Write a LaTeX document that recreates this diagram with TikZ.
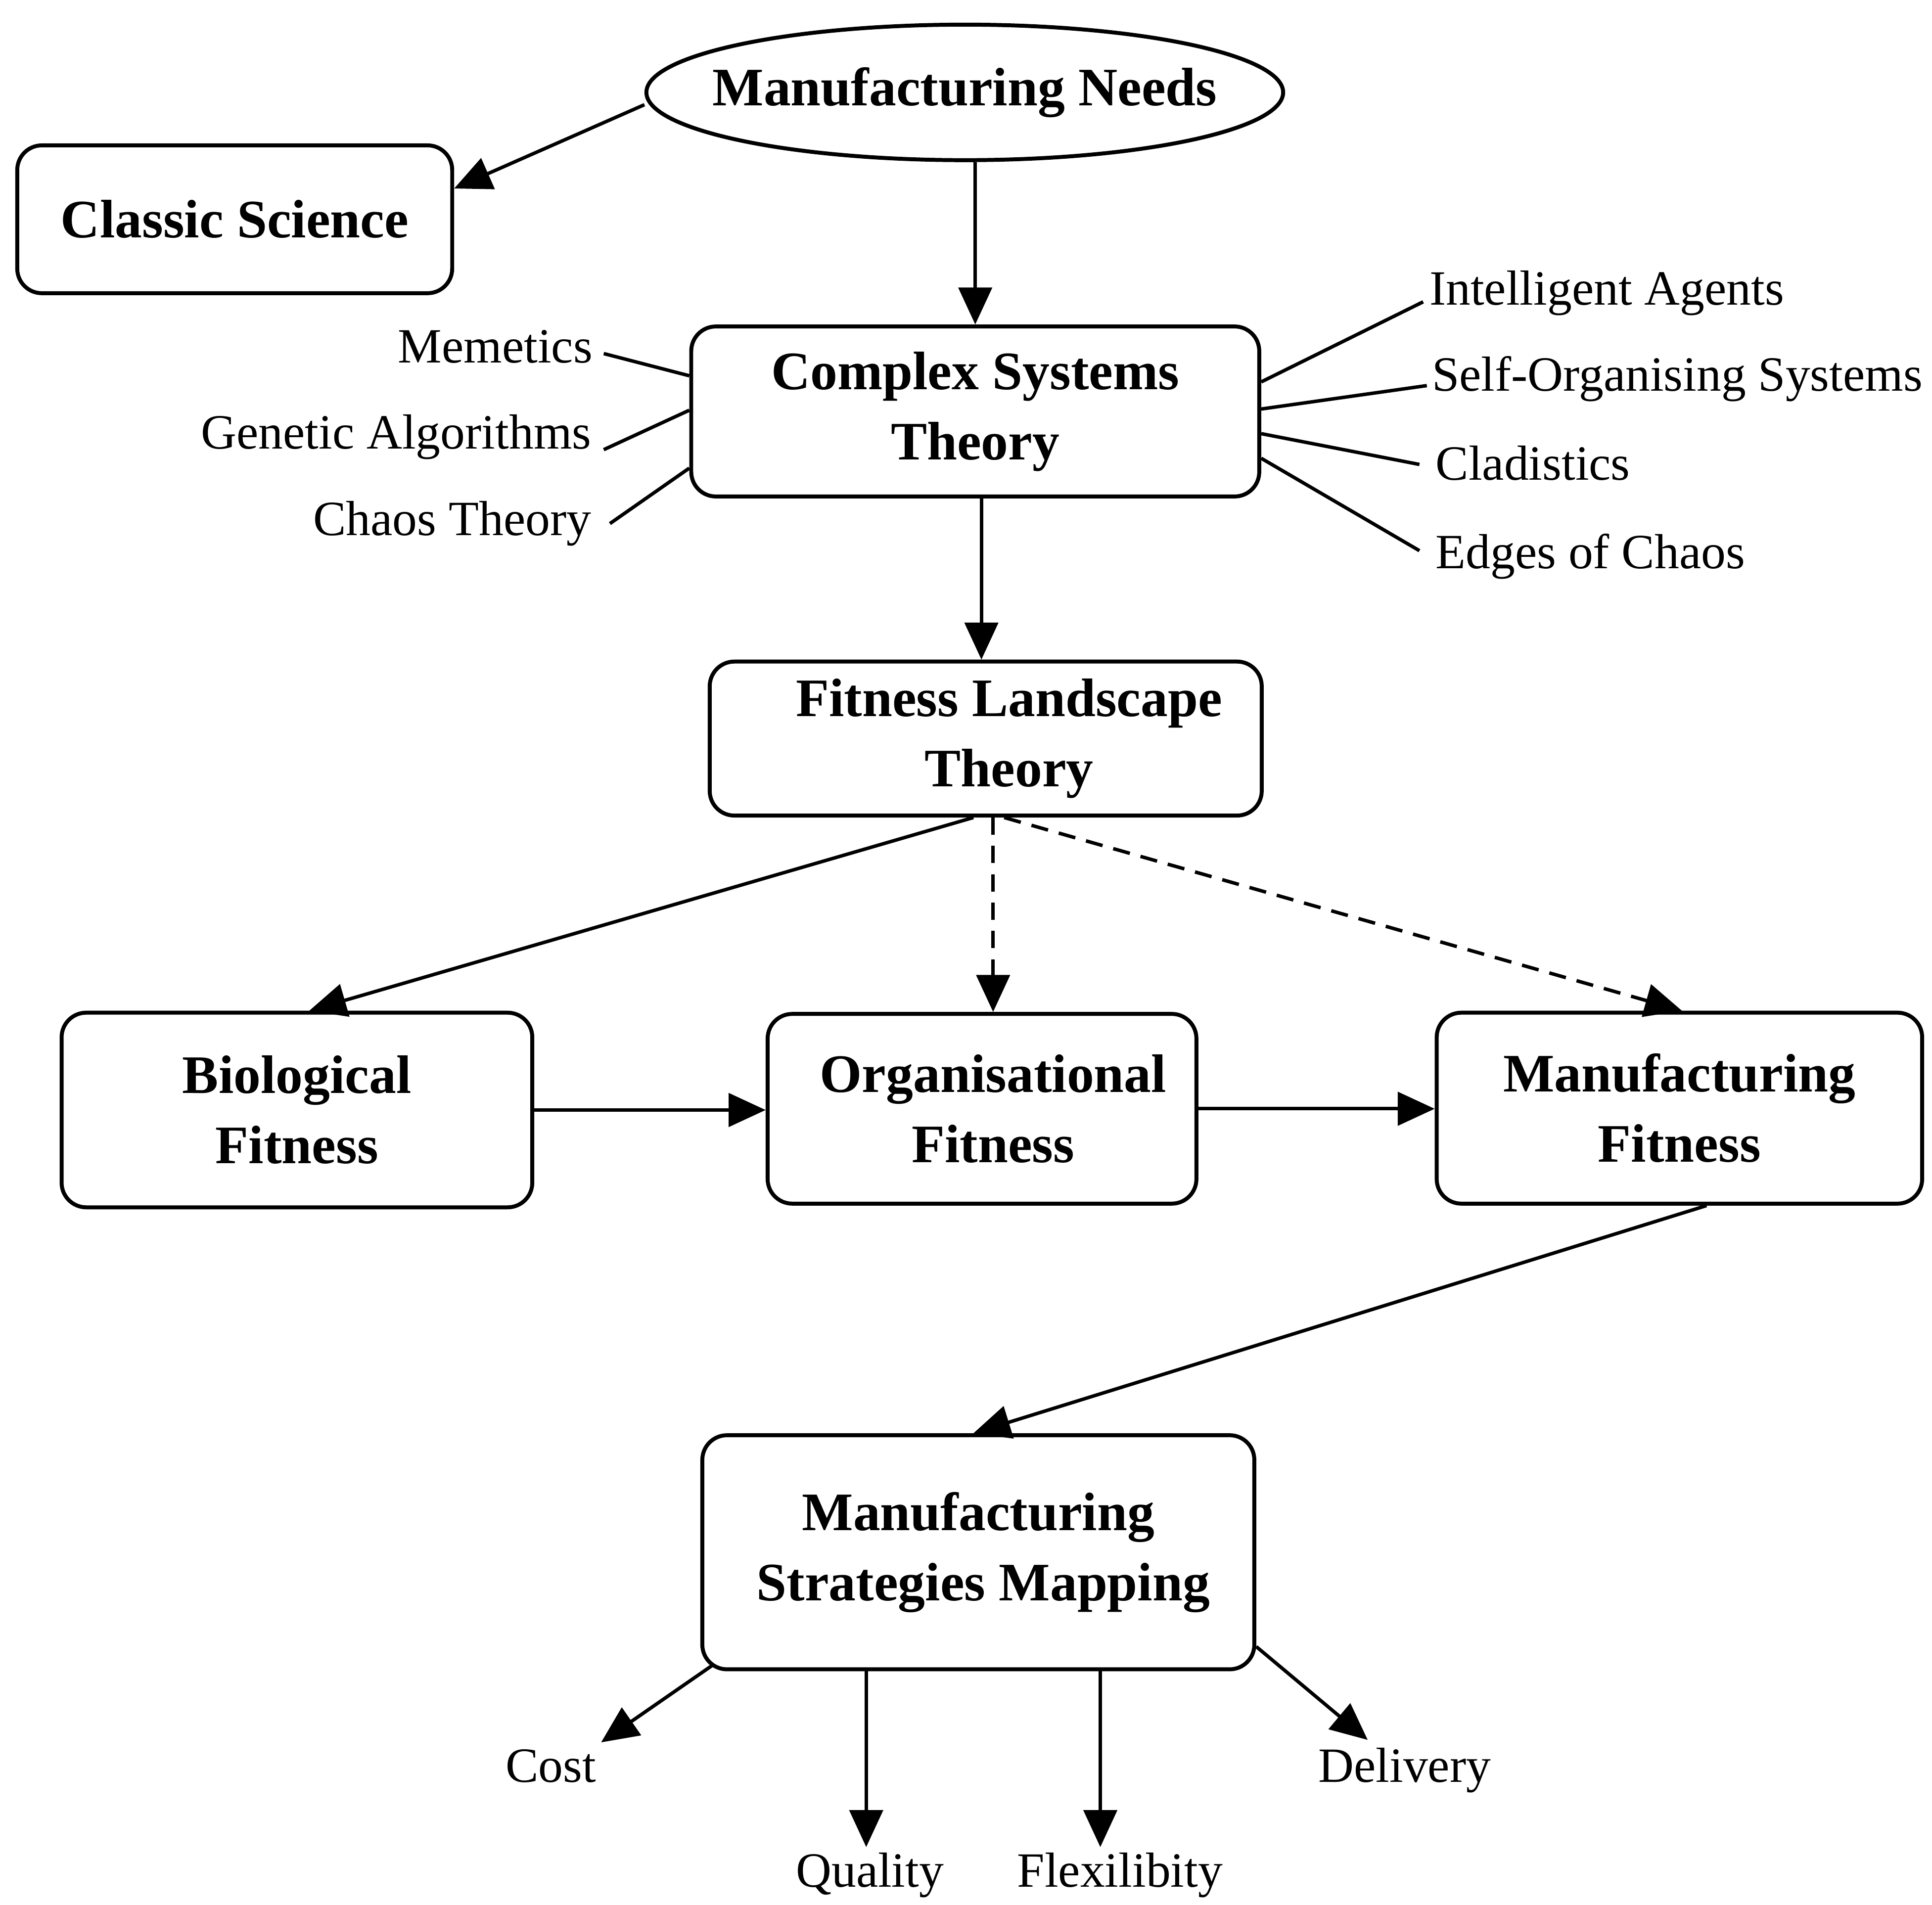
\documentclass[tikz,border=0pt]{standalone}
\usepackage{fontspec}
\setmainfont{Liberation Serif}
\usetikzlibrary{arrows.meta,shapes.geometric}
\begin{document}
\begin{tikzpicture}[x=1pt,y=-1pt,
  boxfont/.style={font=\bfseries\fontsize{44}{57}\selectfont},
  stepbox/.style={draw,line width=3.2pt,rounded corners=20pt,inner sep=0pt,align=center,boxfont},
  topic/.style={inner sep=0pt,font=\fontsize{40}{48}\selectfont,text height=28pt,text depth=9pt},
  outcome/.style={inner sep=4pt,font=\fontsize{40}{48}\selectfont,text height=28pt,text depth=9pt},
  link/.style={line width=2.8pt},
  arr/.style={line width=2.8pt,-{Triangle[length=30pt,width=27pt]}},
  darr/.style={arr,dash pattern=on 14pt off 9pt}]
\useasboundingbox (0,0) rectangle (1568,1546);

% main nodes
\node[draw,ellipse,line width=3.2pt,inner xsep=-22pt,inner ysep=0pt,minimum height=110pt,boxfont]
  (needs) at (783,75) {Manufacturing Needs};
\node[stepbox,minimum width=353pt,minimum height=120pt] (classic) at (190.5,178) {Classic Science};
\node[stepbox,minimum width=461pt,minimum height=138pt] (cst) at (791.5,334) {Complex Systems\\Theory};
\node[stepbox,minimum width=448pt,minimum height=125pt] (flt) at (800,599.5)
  {\hspace*{38pt}Fitness Landscape\\\hspace*{38pt}Theory};
\node[stepbox,minimum width=382pt,minimum height=158pt] (bio) at (241,901) {Biological\\Fitness};
\node[stepbox,minimum width=348pt,minimum height=154pt] (org) at (797,900)
  {\hspace*{18pt}Organisational\\\hspace*{18pt}Fitness};
\node[stepbox,minimum width=394pt,minimum height=155pt] (mf) at (1363,899.5) {Manufacturing\\Fitness};
\node[stepbox,minimum width=448pt,minimum height=190pt] (msm) at (794,1260)
  {Manufacturing\\\hspace*{8pt}Strategies Mapping};

% related fields
\node[topic,anchor=east] (mem) at (481,285) {Memetics};
\node[topic,anchor=east] (ga) at (480,355) {Genetic Algorithms};
\node[topic,anchor=east] (chaos) at (480,425) {Chaos Theory};
\node[topic,anchor=west] (ia) at (1160,238) {Intelligent Agents};
\node[topic,anchor=west] (so) at (1162,308) {Self-Organising Systems};
\node[topic,anchor=west] (cl) at (1165,380) {Cladistics};
\node[topic,anchor=west] (eoc) at (1165,452) {Edges of Chaos};

% performance measures
\node[outcome] (cost) at (447,1437) {Cost};
\node[outcome] (quality) at (706,1522) {Quality};
\node[outcome] (flex) at (909,1522) {Flexilibity};
\node[outcome] (delivery) at (1140,1437) {Delivery};

% field links
\draw[link] ([xshift=9pt,yshift=-2pt]mem.east) -- ([yshift=29pt]cst.west);
\draw[link] ([xshift=10pt,yshift=-10pt]ga.east) -- ([yshift=1pt]cst.west);
\draw[link] ([xshift=15pt]chaos.east) -- ([yshift=-46pt]cst.west);
\draw[link] ([xshift=-5pt,yshift=-7pt]ia.west) -- ([yshift=24pt]cst.east);
\draw[link] ([xshift=-4pt,yshift=-5pt]so.west) -- ([yshift=2pt]cst.east);
\draw[link] ([xshift=-13pt,yshift=3pt]cl.west) -- ([yshift=-18pt]cst.east);
\draw[link] ([xshift=-13pt,yshift=5pt]eoc.west) -- ([yshift=-38pt]cst.east);

% flow
\draw[arr] ([yshift=-10pt]needs.west) -- ([yshift=25pt]classic.east);
\draw[arr] (needs.south -| cst.north) -- (cst.north);
\draw[arr] ([xshift=5pt]cst.south) -- ([xshift=5pt]cst.south |- flt.north);
\draw[arr] ([xshift=-10pt]flt.south) -- ([xshift=10pt]bio.north);
\draw[darr] ([xshift=6pt]flt.south) -- ([xshift=6pt]flt.south |- org.north);
\draw[darr] ([xshift=15pt]flt.south) -- ([xshift=2pt]mf.north);
\draw[arr] (bio.east) -- (bio.east -| org.west);
\draw[arr] (org.east) -- (org.east -| mf.west);
\draw[arr] ([xshift=22pt]mf.south) -- ([xshift=-4pt]msm.north);
\draw[arr] ([xshift=10pt,yshift=5pt]msm.south west) -- (cost.north east);
\draw[arr] ([xshift=-91pt]msm.south) -- ([xshift=-91pt]msm.south |- quality.north);
\draw[arr] ([xshift=99pt]msm.south) -- ([xshift=99pt]msm.south |- flex.north);
\draw[arr] ([yshift=20pt]msm.south east) -- ([xshift=-30pt,yshift=2pt]delivery.north);
\end{tikzpicture}
\end{document}
